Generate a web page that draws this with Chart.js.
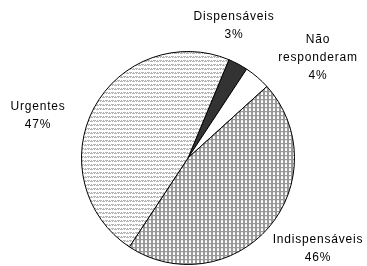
<!DOCTYPE html>
<html>
<head>
<meta charset="utf-8">
<script src="https://cdn.jsdelivr.net/npm/chart.js@4.4.0/dist/chart.umd.min.js"></script>
<style>
  html, body { margin: 0; padding: 0; background: #fff; }
  #wrap { width: 367px; height: 266px; position: relative; }
</style>
</head>
<body>
<div id="wrap"><canvas id="pieChart"></canvas></div>
<script>
// data (clockwise from the Dispensáveis slice)
const categories = ['Dispensáveis', 'Não responderam', 'Indispensáveis', 'Urgentes']
const shares = [3, 4, 46, 47]
const labelLines = [['Dispensáveis'], ['Não', 'responderam'], ['Indispensáveis'], ['Urgentes']]

// fill patterns like the old office chart
function makePattern(w, h, draw) {
  const c = document.createElement('canvas')
  c.width = w
  c.height = h
  const g = c.getContext('2d')
  draw(g)
  return c.getContext('2d').createPattern(c, 'repeat')
}

const zigzag = makePattern(6, 4, (g) => {
  g.fillStyle = '#ffffff'
  g.fillRect(0, 0, 6, 4)
  g.fillStyle = '#b4b4b4'
  g.fillRect(0, 1, 1, 1)
  g.fillRect(1, 0, 1, 1)
  g.fillRect(2, 1, 1, 1)
  g.fillRect(3, 0, 1, 1)
  g.fillRect(4, 1, 1, 1)
  g.fillRect(5, 0, 1, 1)
  g.fillRect(1, 1, 1, 1)
  g.fillRect(4, 0, 1, 1)
})

const checker = makePattern(4, 4, (g) => {
  g.fillStyle = '#999999'
  g.fillRect(0, 0, 4, 4)
  g.fillStyle = '#ffffff'
  g.fillRect(1, 1, 2, 2)
  g.fillStyle = '#e6e6e6'
  g.fillRect(1, 0, 2, 1)
})

const fills = [ '#333333', '#ffffff', checker, zigzag ]

// where each label sits relative to the pie centre
const labelOffsets = [
  { dx: 46, dy: -132 },
  { dx: 130, dy: -100 },
  { dx: 130, dy: 91 },
  { dx: -150, dy: -42 }
]

const outsideLabels = {
  id: 'outsideLabels',
  afterDraw(chart) {
    const ctx = chart.ctx
    const arcs = chart.getDatasetMeta(0).data
    ctx.save()
    ctx.font = '12px "Liberation Sans", Arial, sans-serif'
    ctx.letterSpacing = '0.8px'
    ctx.fillStyle = '#000'
    ctx.textAlign = 'center'
    ctx.textBaseline = 'middle'
    arcs.forEach((arc, i) => {
      const lines = labelLines[i].concat([shares[i] + '%'])
      const x = arc.x + labelOffsets[i].dx
      let y = arc.y + labelOffsets[i].dy - (lines.length - 1) * 9
      lines.forEach((t) => {
        ctx.fillText(t, x, y)
        y += 18
      })
    })
    ctx.restore()
  }
}

const ctx = document.getElementById('pieChart').getContext('2d')
new Chart(ctx, {
  type: 'pie',
  data: {
    labels: categories,
    datasets: [
      {
        data: shares,
        backgroundColor: fills,
        borderColor: '#000000',
        borderWidth: 1
      }
    ]
  },
  options: {
    responsive: true,
    maintainAspectRatio: false,
    animation: false,
    rotation: 22.6,
    layout: {
      padding: { top: 51, bottom: 1, left: 81, right: 72 }
    },
    plugins: {
      legend: { display: false },
      tooltip: { enabled: false }
    }
  },
  plugins: [outsideLabels]
})
</script>
</body>
</html>
